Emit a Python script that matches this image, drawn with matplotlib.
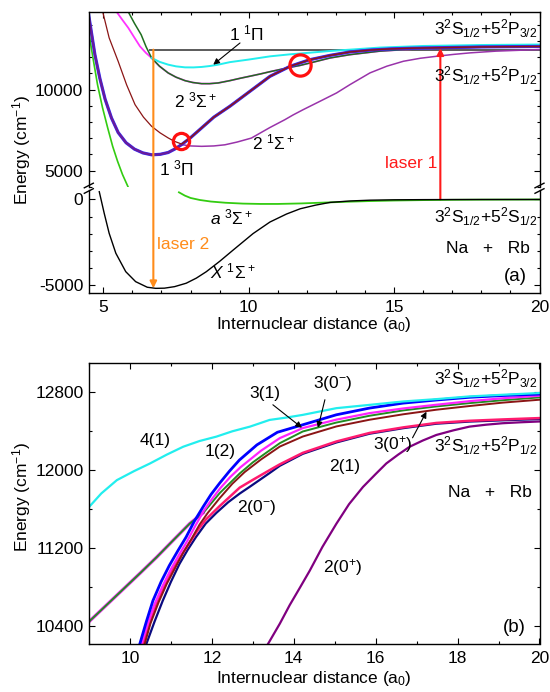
import matplotlib
matplotlib.use("Agg")
import matplotlib.pyplot as plt
from matplotlib.ticker import MultipleLocator, FixedLocator
from matplotlib.lines import Line2D

plt.rcParams.update({
    "font.family": ["Liberation Sans", "DejaVu Sans"],
    "font.size": 12.5,
    "mathtext.fontset": "custom",
    "mathtext.rm": "Liberation Sans",
    "mathtext.it": "Liberation Sans:italic",
    "mathtext.bf": "Liberation Sans:bold",
    "mathtext.sf": "Liberation Sans",
    "axes.unicode_minus": False,
    "axes.linewidth": 1.0,
})

FS = 12.5

# ---------------- panel (a) data: R in a0, energy in cm-1 ----------------
# curves above the axis break
wall_r = [4.46, 4.63, 4.80, 4.97, 5.15, 5.32, 5.49, 5.66, 5.86]
wall_e = [14017, 12100, 10309, 8900, 7633, 6500, 5569, 4750, 3950]

pi13_r = [4.48, 4.71, 4.88, 5.06, 5.28, 5.51, 5.78, 6.07, 6.36, 6.66, 6.95, 7.23, 7.45,
          7.69, 8.0, 8.38, 8.8, 9.35, 10.04, 10.73, 11.42, 11.78, 12.11, 12.8, 13.48,
          14.2, 14.9, 15.6, 16.47, 18.0, 20.0]
pi13_e = [14800, 12163, 10700, 9413, 8250, 7349, 6720, 6323, 6090, 5971, 6000, 6113, 6320,
          6601, 7030, 7633, 8300, 8970, 9895, 10822, 11441, 11660, 11854, 12120, 12330,
          12450, 12520, 12560, 12590, 12640, 12670]

brown_r = [4.98, 5.2, 5.51, 5.8, 6.09, 6.38, 6.66, 6.95, 7.23, 7.45, 7.69, 8.0, 8.38, 8.8,
           9.35, 10.04, 10.73, 11.42, 11.78, 12.11, 12.8, 13.48, 14.2, 14.9, 15.6, 16.47,
           18.0, 20.0]
brown_e = [14800, 13200, 11749, 10300, 9073, 8300, 7732, 7330, 7015, 6800, 6640, 7030, 7633,
           8300, 8970, 9895, 10822, 11441, 11660, 11854, 12120, 12330, 12450, 12520, 12560,
           12590, 12640, 12670]

sig21_r = [7.69, 8.0, 8.38, 8.8, 9.18, 9.6, 10.09, 10.72, 11.24, 11.53, 11.87, 12.45, 13.02,
           13.48, 14.17, 14.75, 15.32, 15.9, 16.47, 17.05, 17.62, 18.5, 20.0]
sig21_e = [6600, 6520, 6495, 6520, 6590, 6760, 7005, 7650, 8140, 8440, 8760, 9280, 9795,
           10309, 11035, 11450, 11755, 11940, 12065, 12180, 12275, 12380, 12480]

sig23_r = [5.86, 6.07, 6.30, 6.47, 6.66, 6.93, 7.23, 7.5, 7.81, 8.08, 8.38, 8.65, 8.95, 9.35,
           9.7, 10.04, 10.4, 10.73, 11.08, 11.42, 11.76, 12.11, 12.8, 13.48, 14.5, 16.0,
           18.0, 20.0]
sig23_e = [14800, 14100, 13399, 12650, 11959, 11450, 11032, 10770, 10556, 10440, 10371,
           10370, 10414, 10556, 10700, 10830, 10970, 11110, 11245, 11380, 11495, 11650,
           11960, 12163, 12380, 12550, 12630, 12670]

mag_r = [5.46, 5.66, 5.86, 6.06, 6.26, 6.46, 6.66]
mag_e = [14800, 14300, 13814, 13240, 12676, 12280, 11959]

pi11_r = [6.66, 6.93, 7.23, 7.5, 7.81, 8.1, 8.38, 8.66, 8.95, 9.35, 10.0, 10.73, 11.4,
          12.11, 12.8, 13.48, 14.5, 16.0, 18.0, 20.0]
pi11_e = [11959, 11720, 11545, 11440, 11378, 11375, 11403, 11460, 11545, 11700, 11860,
          12058, 12180, 12286, 12390, 12472, 12600, 12700, 12760, 12790]

asym_r = [6.6, 20.0]
asym_e = 12480

# curves below the axis break
x_r = [4.86, 5.03, 5.2, 5.43, 5.77, 6.11, 6.51, 6.8, 7.1, 7.45, 7.85, 8.2, 8.54, 9.0, 9.46,
       10.15, 10.73, 11.3, 11.77, 12.3, 12.8, 13.5, 14.17, 15.0, 16.0, 17.0, 18.0, 20.0]
x_e = [456, -807, -1977, -3146, -4222, -4807, -5135, -5200, -5190, -5100, -4900, -4600,
       -4227, -3620, -2965, -1994, -1318, -850, -543, -330, -170, -85, -40, -18, -8, -3, -1, 0]

a_r = [7.6, 7.8, 8.0, 8.32, 8.7, 9.2, 9.8, 10.4, 11.0, 11.8, 12.6, 13.4, 14.2, 15.0, 16.0,
       17.0, 18.0, 20.0]
a_e = [421, 230, 90, -29, -120, -190, -240, -260, -260, -230, -180, -130, -90, -60, -35,
       -18, -8, 0]

laser1_r, laser1_lo, laser1_hi = 16.59, 0, 12565
laser2_r, laser2_hi, laser2_lo = 6.72, 12472, -5195
circle_r = [7.67, 11.76]
circle_e = [6805, 11500]
circle_ms = [11.7, 15.3]

# ---------------- panel (b) data ----------------
c41_r = [9.0, 9.3, 9.68, 10.1, 10.49, 10.9, 11.3, 11.7, 12.11, 12.5, 12.93, 13.41, 13.8,
         14.22, 15.04, 15.85, 16.67, 17.48, 18.29, 19.1, 20.0]
c41_e = [11620, 11760, 11897, 11990, 12069, 12160, 12241, 12300, 12345, 12400, 12448,
         12517, 12540, 12569, 12638, 12672, 12707, 12731, 12759, 12776, 12794]

c12_r = [10.24, 10.4, 10.56, 10.76, 10.96, 11.17, 11.37, 11.58, 11.79, 11.98, 12.19, 12.43,
         12.67, 13.1, 13.6, 14.22, 15.04, 15.85, 16.67, 17.48, 18.29, 19.1, 20.0]
c12_e = [10210, 10440, 10655, 10850, 11017, 11170, 11310, 11480, 11625, 11750, 11866, 11990,
         12103, 12260, 12390, 12467, 12570, 12639, 12690, 12722, 12750, 12768, 12783]

c31_r = [10.28, 10.45, 10.6, 10.8, 11.0, 11.2, 11.4, 11.6, 11.8, 12.0, 12.2, 12.45, 12.7,
         13.2, 13.66, 14.22, 15.04, 15.85, 16.67, 17.48, 18.29, 19.1, 20.0]
c31_e = [10210, 10440, 10620, 10810, 10980, 11130, 11270, 11430, 11580, 11700, 11812, 11930,
         12030, 12200, 12330, 12433, 12520, 12587, 12635, 12673, 12710, 12740, 12766]

c30m_r = [9.0, 9.4, 9.84, 10.25, 10.65, 11.05, 11.46, 11.79, 12.19, 12.68, 13.0, 13.33,
          13.66, 14.22, 15.04, 15.85, 16.67, 17.48, 18.29, 19.1, 20.0]
c30m_e = [10440, 10600, 10776, 10940, 11103, 11275, 11450, 11560, 11763, 11966, 12080,
          12180, 12278, 12398, 12490, 12560, 12615, 12656, 12690, 12720, 12749]

c30p_r = [10.36, 10.5, 10.7, 10.9, 11.1, 11.3, 11.5, 11.7, 11.9, 12.19, 12.5, 12.8, 13.2,
          13.66, 14.22, 15.04, 15.85, 16.67, 17.48, 18.29, 19.1, 20.0]
c30p_e = [10210, 10420, 10640, 10830, 10990, 11150, 11290, 11440, 11560, 11711, 11860,
          11980, 12110, 12243, 12346, 12450, 12519, 12575, 12622, 12660, 12695, 12725]

c21_r = [10.32, 10.48, 10.65, 10.85, 11.05, 11.25, 11.45, 11.65, 11.85, 12.19, 12.68, 13.0,
         13.41, 13.66, 14.22, 15.04, 15.85, 16.67, 17.48, 18.29, 19.1, 20.0]
c21_e = [10210, 10420, 10620, 10810, 10980, 11120, 11250, 11380, 11490, 11630, 11820, 11900,
         12000, 12060, 12178, 12295, 12383, 12440, 12486, 12508, 12522, 12536]

c20m_r = [10.4, 10.6, 10.8, 11.0, 11.21, 11.41, 11.61, 11.85, 12.11, 12.4, 12.68, 12.93,
          13.41, 13.66, 14.22, 15.04, 15.85, 16.67, 17.48, 18.29, 19.1, 20.0]
c20m_e = [10210, 10440, 10655, 10850, 11035, 11180, 11310, 11450, 11560, 11670, 11759,
          11830, 11970, 12045, 12168, 12285, 12375, 12432, 12478, 12500, 12513, 12526]

c20p_r = [13.37, 13.66, 13.9, 14.15, 14.39, 14.7, 15.04, 15.35, 15.69, 16.0, 16.26, 16.55,
          16.83, 17.15, 17.48, 17.9, 18.29, 18.7, 19.1, 19.55, 20.0]
c20p_e = [10210, 10420, 10610, 10790, 10965, 11210, 11448, 11650, 11827, 11960, 12069,
          12160, 12241, 12305, 12362, 12410, 12448, 12468, 12483, 12493, 12501]

ASYM_P32 = r"3$^2$S$_{1/2}$+5$^2$P$_{3/2}$"
ASYM_P12 = r"3$^2$S$_{1/2}$+5$^2$P$_{1/2}$"
ASYM_S12 = r"3$^2$S$_{1/2}$+5$^2$S$_{1/2}$"

W, H = 550.0, 692.0


def px_box(left, top, right, bottom):
    return [left / W, 1 - bottom / H, (right - left) / W, (bottom - top) / H]


def style_ticks(ax):
    ax.tick_params(which="both", direction="in", top=True, right=True,
                   labelsize=FS, width=0.8, pad=4)
    ax.tick_params(which="major", length=4)
    ax.tick_params(which="minor", length=2.3)
    ax.patch.set_visible(False)


fig = plt.figure(figsize=(5.5, 6.92), dpi=100)
fig.patch.set_facecolor("white")

ax_up = fig.add_axes(px_box(88.8, 12, 539.5, 186.7))
ax_lo = fig.add_axes(px_box(88.8, 190, 539.5, 293.3))
ax_b = fig.add_axes(px_box(89, 363.3, 539.5, 644))

for ax in (ax_up, ax_lo, ax_b):
    style_ticks(ax)

# ---- panel (a), upper part ----
ax_up.set_xlim(4.5, 20)
ax_up.set_ylim(4000, 14800)
ax_up.spines["bottom"].set_visible(False)
ax_up.tick_params(axis="x", which="both", bottom=False, labelbottom=False)
ax_up.xaxis.set_major_locator(MultipleLocator(5))
ax_up.xaxis.set_minor_locator(MultipleLocator(1))
ax_up.yaxis.set_major_locator(FixedLocator([5000, 10000]))
ax_up.yaxis.set_minor_locator(MultipleLocator(1000))

ax_up.plot(asym_r, [asym_e, asym_e], color="#5a5a5a", lw=1.4, zorder=1)
ax_up.plot(wall_r, wall_e, color="#33cc11", lw=1.2)
ax_up.plot(mag_r + sig23_r[5:], mag_e + sig23_e[5:], color="#ff33ff", lw=1.3)
ax_up.plot(sig23_r, sig23_e, color="#1e6e1e", lw=1.1)
ax_up.plot(pi11_r, pi11_e, color="#22eeee", lw=1.4)
ax_up.plot(sig21_r, sig21_e, color="#9933aa", lw=1.1)
ax_up.plot(pi13_r, pi13_e, color="#3030ff", lw=2.3)
ax_up.plot(pi13_r, pi13_e, color="#6a1a9a", lw=1.6)
ax_up.plot(brown_r, brown_e, color="#8b1515", lw=0.9)
for r, e, ms in zip(circle_r, circle_e, circle_ms):
    ax_up.plot(r, e, "o", mfc="none", mec="#ff1010", mew=2.3, ms=ms, zorder=6)

ax_up.annotate("", xy=(8.78, 11545), xytext=(9.70, 12886),
               arrowprops=dict(arrowstyle="-|>", color="k", lw=0.8,
                               mutation_scale=9, shrinkA=0, shrinkB=0))
ax_up.text(9.94, 13461, r"1 $^1$Π", ha="center", va="center", fontsize=FS)
ax_up.text(8.18, 9320, r"2 $^3$Σ$^+$", ha="center", va="center", fontsize=FS)
ax_up.text(7.5, 5117, r"1 $^3$Π", ha="center", va="center", fontsize=FS)
ax_up.text(10.86, 6723, r"2 $^1$Σ$^+$", ha="center", va="center", fontsize=FS)
ax_up.text(15.58, 5427, "laser 1", color="#ff1a1a", ha="center", va="center", fontsize=FS)

# ---- panel (a), lower part ----
ax_lo.set_xlim(4.5, 20)
ax_lo.set_ylim(-5490, 556)
ax_lo.spines["top"].set_visible(False)
ax_lo.tick_params(axis="x", which="both", top=False)
ax_lo.xaxis.set_major_locator(MultipleLocator(5))
ax_lo.xaxis.set_minor_locator(MultipleLocator(1))
ax_lo.yaxis.set_major_locator(FixedLocator([-5000, 0]))
ax_lo.yaxis.set_minor_locator(MultipleLocator(1000))
ax_lo.tick_params(axis="x", pad=5)

ax_lo.plot(a_r, a_e, color="#33cc11", lw=1.3)
ax_lo.plot(x_r, x_e, color="black", lw=1.0)
ax_lo.text(9.42, -1024, r"$a$ $^3$Σ$^+$", ha="center", va="center", fontsize=FS)
ax_lo.text(9.46, -4240, r"$X$ $^1$Σ$^+$", ha="center", va="center", fontsize=FS)
ax_lo.text(7.74, -2662, "laser 2", color="#ff8c1a", ha="center", va="center", fontsize=FS)

# laser arrows cross the axis break
ax_up.annotate("", xy=(laser1_r, laser1_hi), xycoords="data",
               xytext=(laser1_r, laser1_lo), textcoords=ax_lo.transData,
               arrowprops=dict(arrowstyle="-|>", color="#ff1a1a", lw=1.5,
                               mutation_scale=10, shrinkA=0, shrinkB=0),
               annotation_clip=False)
ax_lo.annotate("", xy=(laser2_r, laser2_lo), xycoords="data",
               xytext=(laser2_r, laser2_hi), textcoords=ax_up.transData,
               arrowprops=dict(arrowstyle="-|>", color="#ff8c1a", lw=1.5,
                               mutation_scale=10, shrinkA=0, shrinkB=0),
               annotation_clip=False)

# axis-break marks
for xb in (88.8, 539.5):
    for yb in (185.5, 191.0):
        fig.add_artist(Line2D([(xb - 4.5) / W, (xb + 4.5) / W],
                              [1 - (yb + 2.3) / H, 1 - (yb - 2.3) / H],
                              color="black", lw=1.0, transform=fig.transFigure))

fig.text(537 / W, 1 - 35 / H, ASYM_P32, ha="right", va="baseline", fontsize=FS)
fig.text(537 / W, 1 - 82 / H, ASYM_P12, ha="right", va="baseline", fontsize=FS)
fig.text(537 / W, 1 - 223 / H, ASYM_S12, ha="right", va="baseline", fontsize=FS)
fig.text(530 / W, 1 - 253 / H, "Na   +   Rb", ha="right", va="baseline", fontsize=FS)
fig.text(527 / W, 1 - 281 / H, "(a)", ha="right", va="baseline", fontsize=13.5)
fig.text(22 / W, 1 - 150 / H, r"Energy (cm$^{-1}$)", rotation=90,
         ha="center", va="center", fontsize=FS)
fig.text(314 / W, 1 - 329 / H, r"Internuclear distance (a$_0$)",
         ha="center", va="baseline", fontsize=FS)

# ---- panel (b) ----
ax_b.set_xlim(9, 20)
ax_b.set_ylim(10210, 13100)
ax_b.xaxis.set_major_locator(MultipleLocator(2))
ax_b.xaxis.set_minor_locator(MultipleLocator(1))
ax_b.yaxis.set_major_locator(MultipleLocator(800))
ax_b.yaxis.set_minor_locator(MultipleLocator(400))
ax_b.set_yticks([10400, 11200, 12000, 12800])
ax_b.tick_params(axis="x", pad=5)

ax_b.plot(c30m_r[:8], c30m_e[:8], color="#ff33ff", lw=2.4)
ax_b.plot(c20p_r, c20p_e, color="#800080", lw=1.6)
ax_b.plot(c20m_r, c20m_e, color="#0a0a80", lw=1.6)
ax_b.plot(c21_r, c21_e, color="#ff1a6e", lw=1.8)
ax_b.plot(c30p_r, c30p_e, color="#8b1515", lw=1.4)
ax_b.plot(c30m_r, c30m_e, color="#228b22", lw=1.4)
ax_b.plot(c31_r, c31_e, color="#ff22ff", lw=1.6)
ax_b.plot(c12_r, c12_e, color="#0000ff", lw=2.0)
ax_b.plot(c41_r, c41_e, color="#22eeee", lw=1.6)

ax_b.text(10.61, 12302, "4(1)", ha="center", va="center", fontsize=FS)
ax_b.text(12.2, 12189, "1(2)", ha="center", va="center", fontsize=FS)
ax_b.text(13.29, 12787, "3(1)", ha="center", va="center", fontsize=FS)
ax_b.text(14.95, 12890, r"3(0$^{-}$)", ha="center", va="center", fontsize=FS)
ax_b.text(16.41, 12261, r"3(0$^{+}$)", ha="center", va="center", fontsize=FS)
ax_b.text(15.24, 12034, "2(1)", ha="center", va="center", fontsize=FS)
ax_b.text(13.1, 11611, r"2(0$^{-}$)", ha="center", va="center", fontsize=FS)
ax_b.text(15.2, 10993, r"2(0$^{+}$)", ha="center", va="center", fontsize=FS)

arrow_kw = dict(arrowstyle="-|>", color="k", lw=0.8, mutation_scale=9, shrinkA=0, shrinkB=0)
ax_b.annotate("", xy=(14.2, 12436), xytext=(13.49, 12673), arrowprops=arrow_kw)
ax_b.annotate("", xy=(14.59, 12436), xytext=(14.76, 12725), arrowprops=arrow_kw)
ax_b.annotate("", xy=(17.24, 12601), xytext=(16.9, 12333), arrowprops=arrow_kw)

fig.text(537 / W, 1 - 385 / H, ASYM_P32, ha="right", va="baseline", fontsize=FS)
fig.text(537 / W, 1 - 452 / H, ASYM_P12, ha="right", va="baseline", fontsize=FS)
fig.text(532 / W, 1 - 497 / H, "Na   +   Rb", ha="right", va="baseline", fontsize=FS)
fig.text(526 / W, 1 - 632 / H, "(b)", ha="right", va="baseline", fontsize=13.5)
fig.text(22 / W, 1 - 497 / H, r"Energy (cm$^{-1}$)", rotation=90,
         ha="center", va="center", fontsize=FS)
fig.text(314 / W, 1 - 683 / H, r"Internuclear distance (a$_0$)",
         ha="center", va="baseline", fontsize=FS)

fig.savefig("out.png", dpi=100, facecolor="white")
plt.close(fig)
